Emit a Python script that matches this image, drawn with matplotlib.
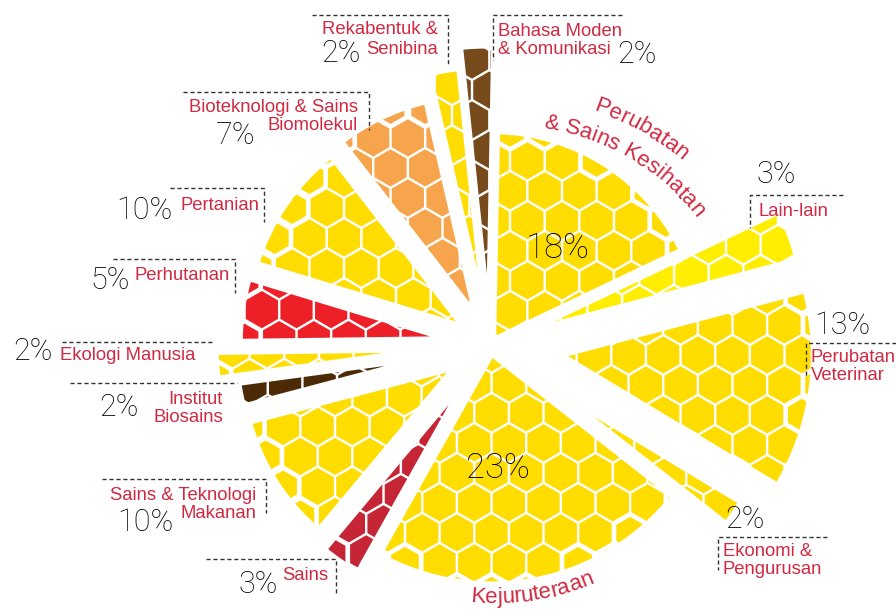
import numpy as np
import matplotlib
matplotlib.use("Agg")
import matplotlib.pyplot as plt
from matplotlib.collections import PolyCollection
from matplotlib.font_manager import FontProperties

# ---------------- data ----------------
categories = ["Bahasa Moden & Komunikasi", "Perubatan & Sains Kesihatan", "Lain-lain",
              "Perubatan Veterinar", "Ekonomi & Pengurusan", "Kejuruteraan", "Sains",
              "Sains & Teknologi Makanan", "Institut Biosains", "Ekologi Manusia",
              "Perhutanan", "Pertanian", "Bioteknologi & Sains Biomolekul",
              "Rekabentuk & Senibina"]
values = [2, 18, 3, 13, 2, 23, 3, 10, 2, 2, 5, 10, 7, 2]
pct_labels = ["2%", "18%", "3%", "13%", "2%", "23%", "3%", "10%", "2%", "2%",
              "5%", "10%", "7%", "2%"]

# ---------------- style ----------------
YEL = "#FFDD00"
colors = ["#774A1C", YEL, "#FFEE00", YEL, YEL, YEL, "#C62536", YEL, "#4B2A05", YEL,
          "#EE2027", YEL, "#F6A54C", YEL]
explode_px = [15, 5, 30, 70, 70, 8, 35, 40, 50, 50, 38, 30, 30, 20]
radius_px = [285, 210, 290, 255, 227, 232, 229, 215, 205, 225, 213, 219, 223, 259]
LABEL_RED = "#D02A42"
LBL_FONT = "Liberation Sans"
PCT_FONT = "Roboto"
W, H = 896, 612

fig = plt.figure(figsize=(8.96, 6.12), dpi=100)
ax = fig.add_axes([0, 0, 1, 1])

wedges, _ = ax.pie(values, startangle=96, counterclock=False, colors=colors,
                   radius=1, center=(0, 0))
ax.set_xlim(0, W)
ax.set_ylim(0, H)
ax.set_aspect("auto")
ax.axis("off")

C = np.array([490.0, H - 345.0])
HR = 20.0  # hex circumradius
dx, dy = np.sqrt(3) * HR, 1.5 * HR
hex_ang = np.radians(90 + 60 * np.arange(6))

for w, col, e, r in zip(wedges, colors, explode_px, radius_px):
    mid = np.radians((w.theta1 + w.theta2) / 2)
    cen = C + e * np.array([np.cos(mid), np.sin(mid)])
    w.set_center(tuple(cen))
    w.set_radius(r)
    w.set_facecolor("none")
    w.set_edgecolor("white")
    w.set_linewidth(5)
    w.set_zorder(5)
    verts = []
    n = int(r / dy) + 3
    for j in range(-n, n + 1):
        for i in range(-n, n + 1):
            x = cen[0] + i * dx + (j % 2) * dx / 2
            y = cen[1] + j * dy
            d = np.hypot(x - cen[0], y - cen[1])
            if d > r + HR:
                continue
            s = 0.93 if d + HR * 0.6 < r else 0.80
            verts.append(np.column_stack([x + s * HR * np.cos(hex_ang),
                                          y + s * HR * np.sin(hex_ang)]))
    pc = PolyCollection(verts, facecolors=col, edgecolors="none", zorder=3)
    ax.add_collection(pc)
    pc.set_clip_path(w)


def P(x, y):
    return x, H - y


def lbl(x, cy, s, ha):
    ax.text(*P(x, cy + 6.5), s, ha=ha, va="baseline", fontsize=13.3,
            family=LBL_FONT, color=LABEL_RED, zorder=10)


def pct(cx, cy, s, fs=22):
    ax.text(*P(cx, cy + fs * 1.389 * 0.36), s, ha="center", va="baseline",
            fontsize=fs, family=PCT_FONT, fontweight="light", color="#000000",
            zorder=10)


def dash(pts):
    xs = [p[0] for p in pts]
    ys = [H - p[1] for p in pts]
    ax.plot(xs, ys, color="#333333", lw=1, ls=(0, (3, 2)), zorder=10)


# Rekabentuk
lbl(438, 28, "Rekabentuk &", "right"); lbl(438, 48, "Senibina", "right")
pct(341, 51, pct_labels[13]); dash([(312, 15), (448, 15), (448, 65)])
# Bahasa
lbl(498, 29, "Bahasa Moden", "left"); lbl(498, 47, "& Komunikasi", "left")
pct(637, 52, pct_labels[0]); dash([(622, 15), (493, 15), (493, 60)])
# Bioteknologi
lbl(358, 106, "Bioteknologi & Sains", "right"); lbl(358, 123, "Biomolekul", "right")
pct(236, 133, pct_labels[12]); dash([(183, 92), (369, 92), (369, 130)])
# Pertanian
lbl(180, 203, "Pertanian", "left"); pct(144, 208, pct_labels[11])
dash([(170, 188), (264, 188), (264, 222)])
# Perhutanan
lbl(134, 274, "Perhutanan", "left"); pct(110, 278, pct_labels[10])
dash([(113, 259), (235, 259), (235, 293)])
# Ekologi
lbl(60, 353, "Ekologi Manusia", "left"); pct(33, 349, pct_labels[9])
dash([(62, 342), (213, 342)])
# Institut
lbl(223, 397, "Institut", "right"); lbl(223, 415, "Biosains", "right")
pct(119, 405, pct_labels[8]); dash([(70, 383), (237, 383)])
# Sains & Teknologi Makanan
lbl(256, 493, "Sains & Teknologi", "right"); lbl(256, 511, "Makanan", "right")
pct(145, 520, pct_labels[7]); dash([(102, 479), (266, 479), (266, 513)])
# Sains
lbl(282, 573, "Sains", "left"); pct(258, 582, pct_labels[6])
dash([(206, 559), (336, 559), (336, 593)])
# Lain-lain
lbl(758, 210, "Lain-lain", "left"); pct(776, 172, pct_labels[2])
dash([(843, 195), (750, 195), (750, 228)])
# Veterinar
lbl(811, 356, "Perubatan", "left"); lbl(811, 373, "Veterinar", "left")
pct(842, 323, pct_labels[3]); dash([(896, 343), (806, 343), (806, 377)])
# Ekonomi
lbl(723, 550, "Ekonomi &", "left"); lbl(723, 567, "Pengurusan", "left")
pct(745, 517, pct_labels[4]); dash([(827, 537), (718, 537), (718, 570)])
# inner
pct(558, 245, pct_labels[1], fs=25)
pct(498, 465, pct_labels[5], fs=25)

# curved labels
renderer = fig.canvas.get_renderer()


def arc_text(s, cx, cy, r, start, sign, fs):
    fp = FontProperties(family=LBL_FONT, size=fs)
    def wd(t):
        return renderer.get_text_width_height_descent(t, fp, ismath=False)[0]
    for k, ch in enumerate(s):
        if ch == " ":
            continue
        pos = wd(s[:k + 1]) - wd(ch) / 2
        ang = start + sign * np.degrees(pos / r)
        a = np.radians(ang)
        x, y = cx + r * np.cos(a), cy + r * np.sin(a)
        rot = ang - 90 if sign < 0 else ang + 90
        ax.text(x, y, ch, rotation=rot, rotation_mode="anchor", ha="center",
                va="baseline", fontsize=fs, family=LBL_FONT, color=LABEL_RED,
                zorder=10)


arc_text("Perubatan", 510, H - 360, 263, 71.5, -1, 16)
arc_text("& Sains Kesihatan", 510, H - 360, 234, 81.9, -1, 16)
arc_text("Kejuruteraan", 495, H - 345, 258, -95.6, 1, 16)

fig.savefig("out.png", dpi=100)
